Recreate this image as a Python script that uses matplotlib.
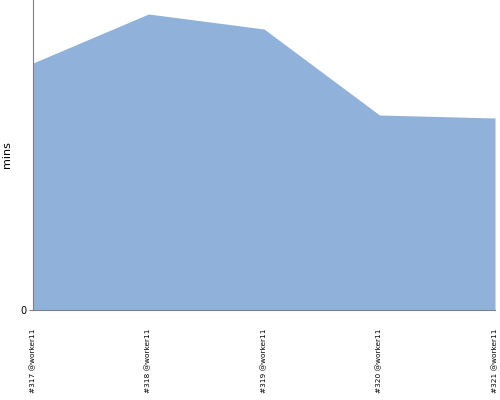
import matplotlib.pyplot as plt

categories = ["#317 @worker11", "#318 @worker11", "#319 @worker11",
              "#320 @worker11", "#321 @worker11"]
mins = [24.7, 29.6, 28.1, 19.5, 19.2]


def main() -> None:
    fig = plt.figure(figsize=(5, 4), dpi=100)
    ax = fig.add_axes([0.066, 0.225, 0.924, 0.775])
    x = list(range(len(categories)))
    ax.fill_between(x, mins, 0, color="#8fb1da", linewidth=0)
    ax.set_xlim(0, len(categories) - 1)
    ax.set_ylim(0, 31)
    ax.set_yticks([0])
    ax.set_yticklabels(["0"], fontsize=7)
    ax.set_xticks(x)
    ax.set_xticklabels(categories, rotation=90, fontsize=5.3)
    ax.tick_params(axis="x", length=0, pad=13)
    ax.tick_params(axis="y", length=3, color="#808080", pad=2)
    ax.set_ylabel("mins", fontsize=8)
    ax.yaxis.set_label_coords(-0.045, 0.5)
    for side in ("top", "right"):
        ax.spines[side].set_visible(False)
    for side in ("left", "bottom"):
        ax.spines[side].set_color("#808080")
        ax.spines[side].set_linewidth(0.8)
    fig.savefig("out.png", dpi=100)


if __name__ == "__main__":
    main()
